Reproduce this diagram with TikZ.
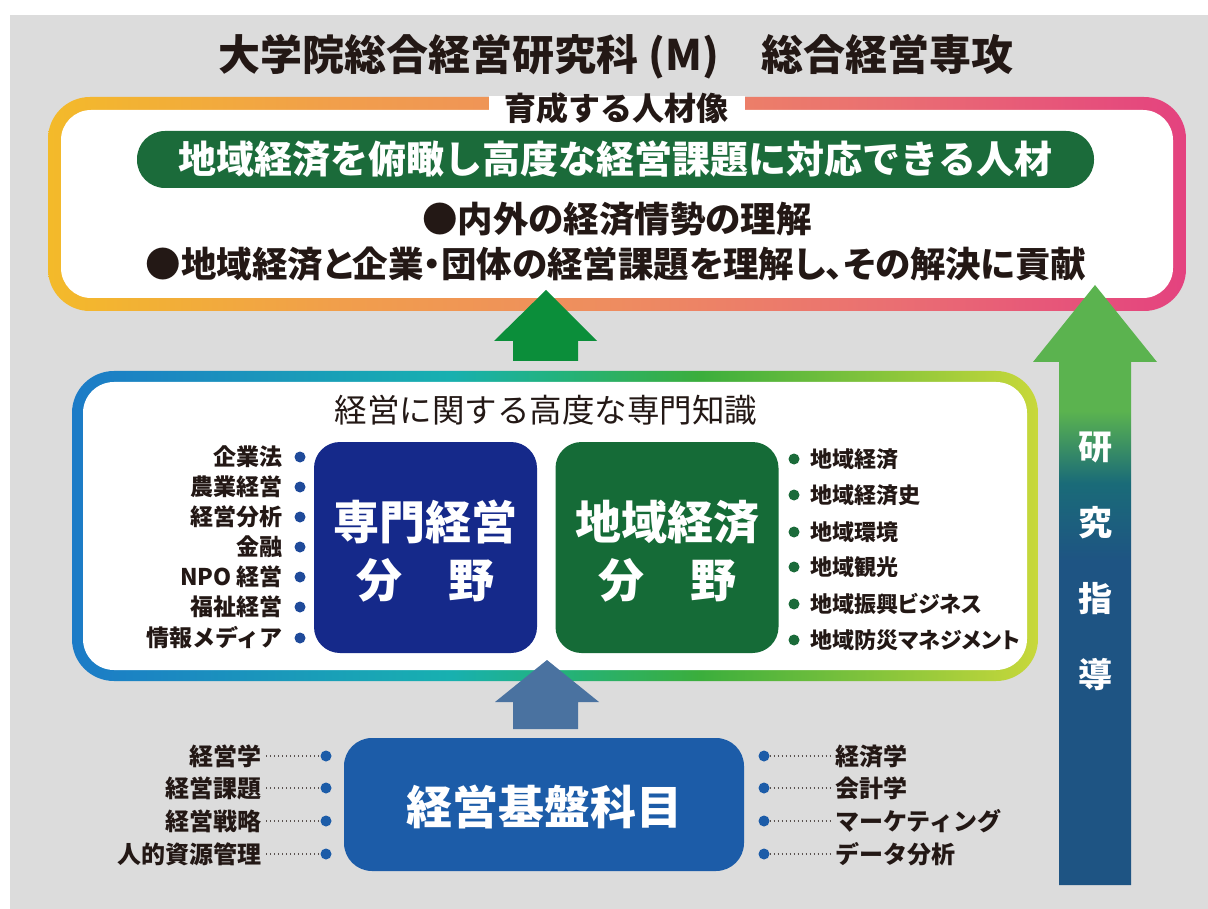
\documentclass[tikz,border=0pt]{standalone}
\usepackage{fontspec}
\newfontfamily\jp{Noto Sans CJK JP}
\newfontfamily\jpp{Noto Sans CJK JP}[RawFeature=+palt]
\definecolor{bg}{HTML}{DCDCDC}
\definecolor{ink}{HTML}{231815}
\definecolor{banner}{HTML}{1B6B3A}
\definecolor{navy}{HTML}{15298A}
\definecolor{dgreen}{HTML}{156B37}
\definecolor{kiban}{HTML}{1C5CA8}
\definecolor{arrG}{HTML}{0B8E3A}
\definecolor{arrB}{HTML}{4A72A0}
\definecolor{dotB}{HTML}{1F4A9A}
\definecolor{dotG}{HTML}{1B6B3A}
\definecolor{tA}{HTML}{F3BA2A}
\definecolor{tB}{HTML}{F19E4C}
\definecolor{tC}{HTML}{EE8C60}
\definecolor{tD}{HTML}{EA6F72}
\definecolor{tE}{HTML}{E4427F}
\definecolor{mA}{HTML}{1C7BC7}
\definecolor{mB}{HTML}{18B0B0}
\definecolor{mC}{HTML}{22B27E}
\definecolor{mD}{HTML}{3BAE3C}
\definecolor{mE}{HTML}{C8D83B}
\definecolor{aB}{HTML}{1E5483}
\definecolor{aT}{HTML}{1A6B78}
\definecolor{aG}{HTML}{5BB34F}
\pgfdeclarehorizontalshading{topg}{100bp}{color(0bp)=(tA); color(25bp)=(tA); color(38bp)=(tB); color(50bp)=(tC); color(62bp)=(tD); color(75bp)=(tE); color(100bp)=(tE)}
\pgfdeclarehorizontalshading{midg}{100bp}{color(0bp)=(mA); color(25bp)=(mA); color(44.5bp)=(mB); color(50bp)=(mC); color(57.5bp)=(mD); color(75bp)=(mE); color(100bp)=(mE)}
\pgfdeclareverticalshading{arrg}{100bp}{color(0bp)=(aB); color(52bp)=(aB); color(58.5bp)=(aT); color(64.5bp)=(aG); color(100bp)=(aG)}
\tikzset{
  txt/.style={inner sep=0pt, text=ink},
  ltitle/.style={txt, font=\jp\bfseries\fontsize{42}{48}\selectfont},
  sub/.style={txt, font=\jp\bfseries\fontsize{32}{38}\selectfont},
  bline/.style={txt, font=\jpp\bfseries\fontsize{35.5}{40}\selectfont},
  midtitle/.style={txt, font=\jp\fontsize{32.5}{38}\selectfont},
  lefti/.style={txt, anchor=east, font=\jp\bfseries\fontsize{23}{27}\selectfont},
  righti/.style={txt, anchor=west, font=\jpp\bfseries\fontsize{22}{27}\selectfont},
  boti/.style={txt, font=\jp\bfseries\fontsize{24}{28}\selectfont},
  dotb/.style={circle, fill=dotB, inner sep=0pt, minimum size=11pt},
  dotg/.style={circle, fill=dotG, inner sep=0pt, minimum size=11pt},
  dotk/.style={circle, fill=kiban, inner sep=0pt, minimum size=11pt},
  dots/.style={draw=ink!75, line width=1.3pt, dash pattern=on 1.3pt off 2.7pt},
  field/.style={rounded corners=26pt, minimum width=223pt, minimum height=211pt, inner sep=0pt},
  fieldtext/.style={text=white, align=center, inner sep=0pt, font=\jp\bfseries\fontsize{46}{58}\selectfont},
}
\begin{document}
\begin{tikzpicture}[x=1pt,y=-1pt]
\useasboundingbox (0,0) rectangle (1208,909);
\fill[white] (0,0) rectangle (1208,909);
\fill[bg] (10,15) rectangle (1208,909);

% title
\node[ltitle] (title) at (616,57) {大学院総合経営研究科 (M)　総合経営専攻};

% top box
\shade[shading=topg, rounded corners=42pt] (48,97) rectangle (1186,311);
\fill[white, rounded corners=30pt] (61,110) rectangle (1173,298);
\fill[white] (489,96) rectangle (745,111);
\node[sub] (ikusei) at (616,108) {育成する人材像};
\node[fill=banner, rounded corners=28pt, minimum width=957pt, minimum height=57pt, inner sep=0pt] (banner) at (615.5,159.5) {};
\node[txt, text=white, font=\jp\bfseries\fontsize{38}{44}\selectfont] (bannertext) at (banner.center) {地域経済を俯瞰し高度な経営課題に対応できる人材};
\node[bline] (b1) at (617,219) {●内外の経済情勢の理解};
\node[bline] (b2) at (616,264) {●地域経済と企業・団体の経営課題を理解し、その解決に貢献};

% green arrow
\fill[arrG] (546,290) -- (597,341) -- (578,341) -- (578,361) -- (513,361) -- (513,341) -- (494,341) -- cycle;

% middle box
\shade[shading=midg, rounded corners=42pt] (72,371) rectangle (1038,681);
\fill[white, rounded corners=31pt] (83,382) rectangle (1027,670);
\node[midtitle] (midt) at (546,410) {経営に関する高度な専門知識};

\node[field, fill=navy] (senmon) at (425.5,547.5) {};
\node[fieldtext] (senmontext) at ([yshift=-3.5pt]senmon.center) {専門経営\\分　野};
\node[field, fill=dgreen] (chiiki) at (667,547.5) {};
\node[fieldtext] (chiikitext) at ([yshift=-3.5pt]chiiki.center) {地域経済\\分　野};

% left list
\foreach \t/\y [count=\i] in {企業法/457, 農業経営/487, 経営分析/517, 金融/547, NPO 経営/577, 福祉経営/607, 情報メディア/638}{
  \node[lefti] (l\i) at (283,\y) {\t};
  \node[dotb] (ld\i) at (300,\y) {};
}
% right list
\foreach \t/\y [count=\i] in {地域経済/459, 地域経済史/495, 地域環境/532, 地域観光/567, 地域振興ビジネス/604, 地域防災マネジメント/640}{
  \node[dotg] (rd\i) at (794,\y) {};
  \node[righti] (r\i) at (810,\y) {\t};
}

% blue arrow
\fill[arrB] (547,660) -- (599,702) -- (578,702) -- (578,729) -- (513,729) -- (513,702) -- (495,702) -- cycle;

% bottom box
\node[fill=kiban, rounded corners=28pt, minimum width=400pt, minimum height=133pt, inner sep=0pt] (kibanbox) at (544,804.5) {};
\node[txt, text=white, font=\jp\bfseries\fontsize{46}{54}\selectfont] (kibantext) at ([yshift=-2pt]kibanbox.center) {経営基盤科目};

\foreach \t/\y [count=\i] in {経営学/756, 経営課題/788, 経営戦略/821, 人的資源管理/854}{
  \node[boti, anchor=east] (bl\i) at (262,\y) {\t};
  \node[dotk] (bld\i) at (326,\y) {};
  \draw[dots] ([xshift=4pt]bl\i.east) -- (bld\i.west);
}
\foreach \t/\y [count=\i] in {経済学/756, 会計学/788, マーケティング/821, データ分析/854}{
  \node[dotk] (brd\i) at (764,\y) {};
  \node[boti, anchor=west] (br\i) at (835,\y) {\t};
  \draw[dots] (brd\i.east) -- ([xshift=-4pt]br\i.west);
}

% research guidance arrow
\shade[shading=arrg] (1095,285) -- (1157,362) -- (1131,362) -- (1131,885) -- (1059,885) -- (1059,362) -- (1033,362) -- cycle;
\node[txt, text=white, align=center, font=\jp\bfseries\fontsize{34}{76}\selectfont] (kenkyu) at (1095,561) {研\\究\\指\\導};
\end{tikzpicture}
\end{document}
